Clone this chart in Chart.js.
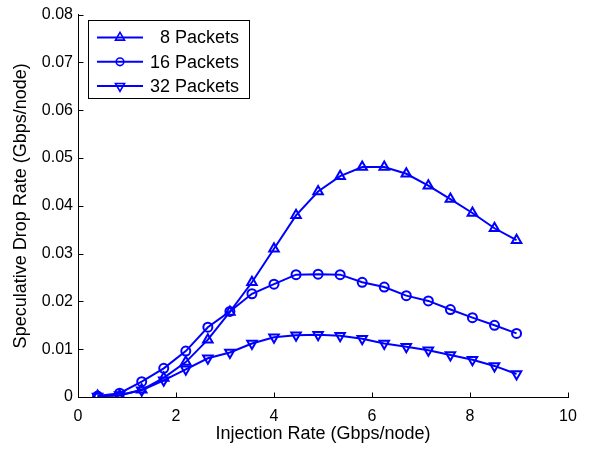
<!DOCTYPE html>
<html>
<head>
<meta charset="utf-8">
<script src="https://cdn.jsdelivr.net/npm/chart.js@4/dist/chart.umd.min.js"></script>
<style>
  html, body { margin: 0; padding: 0; background: #fff; }
  #wrap { width: 595px; height: 449px; }
</style>
</head>
<body>
<div id="wrap"><canvas id="dropChart"></canvas></div>
<script>
// data
const injectionRate = [0.4, 0.85, 1.3, 1.75, 2.2, 2.65, 3.1, 3.55, 4.0, 4.45, 4.9, 5.35, 5.8, 6.25, 6.7, 7.15, 7.6, 8.05, 8.5, 8.95];
const drop8  = [0.0002, 0.0003, 0.0015, 0.0040, 0.0073, 0.0120, 0.0178, 0.0240, 0.0310, 0.0380, 0.0430, 0.0462, 0.0481, 0.0481, 0.0467, 0.0442, 0.0414, 0.0385, 0.0353, 0.0328];
const drop16 = [0.0002, 0.0008, 0.0032, 0.0060, 0.0096, 0.0146, 0.0179, 0.0216, 0.0236, 0.0256, 0.0257, 0.0256, 0.0240, 0.0230, 0.0212, 0.0201, 0.0183, 0.0166, 0.0150, 0.0133];
const drop32 = [0.0001, 0.0004, 0.0014, 0.0035, 0.0058, 0.0081, 0.0093, 0.0112, 0.0125, 0.0129, 0.0130, 0.0128, 0.0122, 0.0112, 0.0105, 0.0098, 0.0088, 0.0078, 0.0065, 0.0048];
const seriesNames = ['8 Packets', '16 Packets', '32 Packets'];
const xTicks = [0, 2, 4, 6, 8, 10];
const yTicks = [0, 0.01, 0.02, 0.03, 0.04, 0.05, 0.06, 0.07, 0.08];

const blue = '#0000ff';
const fontFamily = 'Arial';

function toPoints(ys) {
    return injectionRate.map((x, i) => ({ x: x, y: ys[i] }));
}

function makeSet(label, ys, style, rotation, radius) {
    return {
        label: label,
        data: toPoints(ys),
        borderColor: blue,
        borderWidth: 2,
        pointStyle: style,
        pointRotation: rotation,
        pointRadius: radius,
        pointBorderWidth: 2,
        pointBorderColor: blue,
        pointBackgroundColor: 'rgba(255,255,255,0)',
        tension: 0
    };
}

// small hollow legend glyph
function legendMarker(ctx, style, rotation, cx, cy) {
    ctx.beginPath();
    if (style === 'circle') {
        ctx.arc(cx, cy, 3.8, 0, Math.PI * 2);
    } else {
        const r = 5.2;
        const s = rotation === 180 ? -1 : 1;
        ctx.moveTo(cx, cy - s * r);
        ctx.lineTo(cx + r * 0.87, cy + s * r * 0.5);
        ctx.lineTo(cx - r * 0.87, cy + s * r * 0.5);
        ctx.closePath();
    }
    ctx.lineWidth = 1.6;
    ctx.stroke();
}

// legend box, then the axis lines with inward ticks (matlab look)
const matlabDecor = {
    id: 'matlabDecor',
    afterDraw(chart) {
        const ctx = chart.ctx;
        const bx = 88, by = 20, bw = 161, bh = 78;
        ctx.save();
        ctx.fillStyle = '#fff';
        ctx.fillRect(bx, by, bw, bh);
        ctx.strokeStyle = '#000';
        ctx.lineWidth = 1;
        ctx.strokeRect(bx + 0.5, by + 0.5, bw, bh);
        chart.data.datasets.forEach((ds, i) => {
            const ry = by + 17.5 + i * 24.3;
            ctx.strokeStyle = blue;
            ctx.lineWidth = 2;
            ctx.beginPath();
            ctx.moveTo(bx + 9, ry);
            ctx.lineTo(bx + 55, ry);
            ctx.stroke();
            legendMarker(ctx, ds.pointStyle, ds.pointRotation, bx + 32, ry);
            ctx.fillStyle = '#000';
            ctx.font = '18px ' + fontFamily;
            ctx.textAlign = 'right';
            ctx.textBaseline = 'middle';
            ctx.fillText(ds.label, bx + bw - 10, ry + 1);
        });

        const xs = chart.scales.x, ys = chart.scales.y;
        const left = Math.round(xs.getPixelForValue(xTicks[0])) + 0.5;
        const right = Math.round(xs.getPixelForValue(xTicks[xTicks.length - 1])) + 0.5;
        const bottom = Math.round(ys.getPixelForValue(yTicks[0])) + 0.5;
        const top = Math.round(ys.getPixelForValue(yTicks[yTicks.length - 1])) + 0.5;
        ctx.strokeStyle = '#000000';
        ctx.lineWidth = 1;
        ctx.globalAlpha = 1;
        ctx.beginPath();
        ctx.moveTo(left, top);
        ctx.lineTo(left, bottom);
        ctx.lineTo(right, bottom);
        xTicks.forEach(v => {
            const px = Math.round(xs.getPixelForValue(v)) + 0.5;
            ctx.moveTo(px, bottom);
            ctx.lineTo(px, bottom - 5);
        });
        yTicks.forEach(v => {
            const py = Math.round(ys.getPixelForValue(v)) + 0.5;
            ctx.moveTo(left, py);
            ctx.lineTo(left + 5, py);
        });
        ctx.stroke();
        ctx.restore();
    }
};

new Chart(document.getElementById('dropChart'), {
    type: 'line',
    data: {
        datasets: [
            makeSet(seriesNames[0], drop8, 'triangle', 0, 5.5),
            makeSet(seriesNames[1], drop16, 'circle', 0, 4.5),
            makeSet(seriesNames[2], drop32, 'triangle', 180, 5.5)
        ]
    },
    options: {
        responsive: true,
        maintainAspectRatio: false,
        animation: false,
        layout: { padding: { top: 13, right: 27 } },
        plugins: {
            legend: { display: false },
            tooltip: { enabled: false }
        },
        scales: {
            x: {
                type: 'linear',
                min: xTicks[0],
                max: xTicks[xTicks.length - 1],
                grid: { display: false, drawTicks: false },
                border: { display: true, color: '#000' },
                ticks: { stepSize: 2, color: '#000', font: { size: 16, family: fontFamily }, padding: 10, maxRotation: 0 },
                title: { display: true, text: 'Injection Rate (Gbps/node)', color: '#000', font: { size: 18, family: fontFamily }, padding: { top: 2 } },
                afterFit: axis => { axis.height = 52; }
            },
            y: {
                type: 'linear',
                min: yTicks[0],
                max: yTicks[yTicks.length - 1],
                grid: { display: false, drawTicks: false },
                border: { display: true, color: '#000' },
                ticks: {
                    stepSize: 0.01,
                    color: '#000',
                    font: { size: 16, family: fontFamily },
                    padding: 5,
                    callback: v => v === 0 ? '0' : v.toFixed(2)
                },
                title: { display: true, text: 'Speculative Drop Rate (Gbps/node)', color: '#000', font: { size: 18, family: fontFamily }, padding: { top: 10, bottom: 0 } },
                afterFit: axis => { axis.width = 78; }
            }
        }
    },
    plugins: [matlabDecor]
});
</script>
</body>
</html>
